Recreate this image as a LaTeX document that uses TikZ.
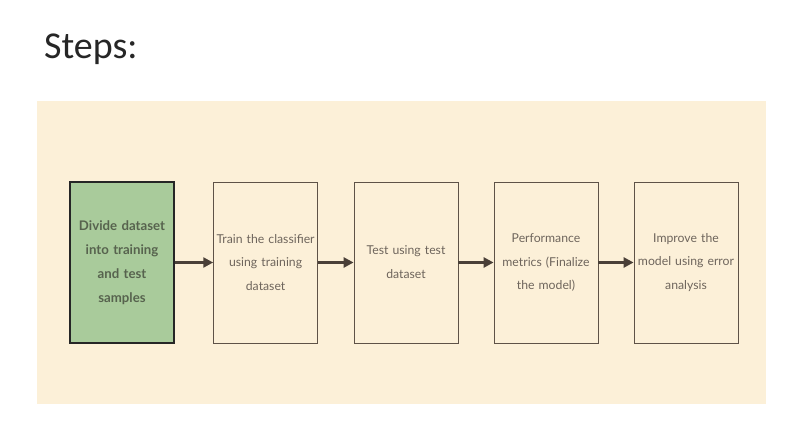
\documentclass[tikz,border=0pt]{standalone}
\usepackage{fontspec}
\setmainfont{Lato}
\newfontfamily\titlefont{Carlito}
\usetikzlibrary{arrows.meta}
\definecolor{panel}{HTML}{FCF0D8}
\definecolor{boxline}{HTML}{5E5247}
\definecolor{boxtext}{HTML}{6E655C}
\definecolor{stepgreen}{HTML}{A9CB9B}
\definecolor{greentext}{HTML}{57634E}
\definecolor{arrowcol}{HTML}{4A4038}
\tikzset{
  stepbox/.style={rectangle,draw=boxline,line width=0.6pt,fill=panel,inner sep=1pt,minimum width=2.6cm,minimum height=4.025cm,
    text width=2.5cm,align=center,font=\fontsize{8.7}{17}\selectfont,text=boxtext},
  stepflow/.style={-{Triangle[length=7pt,width=7pt]},line width=1.8pt,draw=arrowcol}
}
\begin{document}
\begin{tikzpicture}
\useasboundingbox[fill=white] (0,0) rectangle (20,-10.775);
\node[anchor=base west,font=\titlefont\fontsize{27}{30}\selectfont,text=black!85] (title) at (0.98,-1.47){Steps:};
\fill[panel] (0.925,-2.525) rectangle (19.15,-10.1);
\node[stepbox,fill=stepgreen,draw=black!85,line width=1.2pt,text=greentext,font=\bfseries\fontsize{9.4}{17.2}\selectfont] (a) at (3.05,-6.5625){Divide dataset\\into training\\and test\\samples};
\node[stepbox] (b) at (6.64,-6.5625){Train the classifier\\using training\\dataset};
\node[stepbox] (c) at (10.15,-6.5625){Test using test\\dataset};
\node[stepbox] (d) at (13.65,-6.5625){Performance\\metrics (Finalize\\the model)};
\node[stepbox] (e) at (17.15,-6.5625){Improve the\\model using error\\analysis};
    \draw[stepflow] (a) to (b);
      \draw[stepflow] (b) to (c);
        \draw[stepflow] (c) to (d);
          \draw[stepflow] (d) to (e);
\end{tikzpicture}
\end{document}
